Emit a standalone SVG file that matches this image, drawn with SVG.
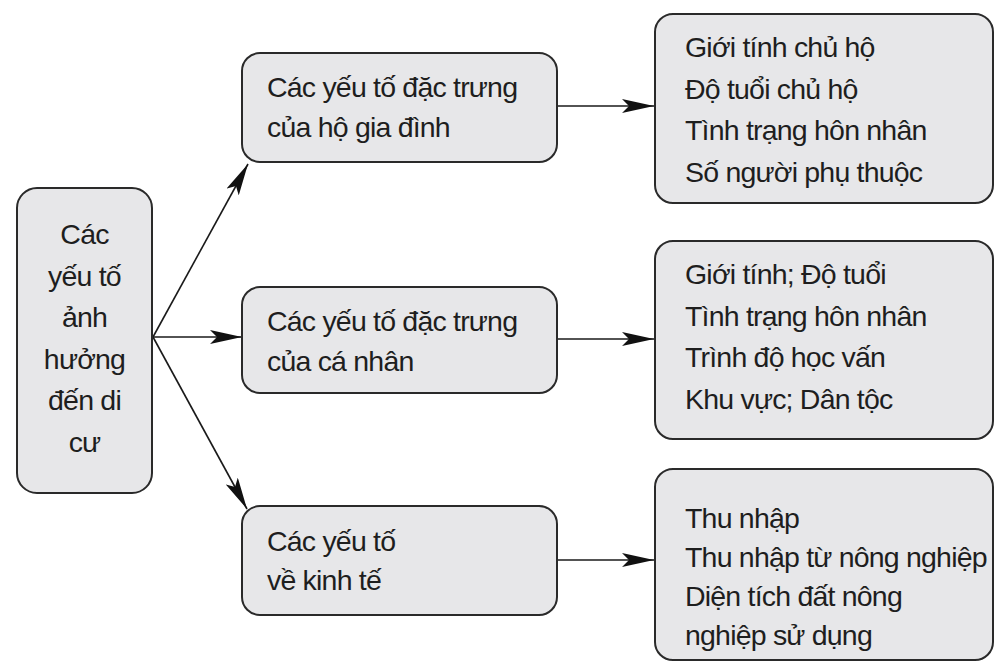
<svg xmlns="http://www.w3.org/2000/svg" width="994" height="665" viewBox="0 0 994 665">
<style>
.box{fill:#e7e7e9;stroke:#2a2a2a;stroke-width:2}
.t{font-family:"Liberation Sans",Arial,sans-serif;font-size:28.5px;letter-spacing:-0.8px;fill:#1e1e1e}
.c{text-anchor:middle}
.ln{stroke:#1a1a1a;stroke-width:1.6;fill:none}
</style>
<defs>
<marker id="ah" markerUnits="userSpaceOnUse" viewBox="0 0 32 14" refX="32" refY="7" markerWidth="32" markerHeight="14" orient="auto">
<path d="M0,0 L32,7 L0,14 L7,7 Z" fill="#111"/>
</marker>
</defs>
<rect width="994" height="665" fill="#ffffff"/>
<g id="connectors">
<line class="ln" x1="153" y1="337" x2="248" y2="164" marker-end="url(#ah)"/>
<line class="ln" x1="153" y1="337" x2="242" y2="337" marker-end="url(#ah)"/>
<line class="ln" x1="153" y1="337" x2="247" y2="509" marker-end="url(#ah)"/>
<line class="ln" x1="558" y1="106" x2="654" y2="106" marker-end="url(#ah)"/>
<line class="ln" x1="558" y1="339" x2="654" y2="339" marker-end="url(#ah)"/>
<line class="ln" x1="558" y1="560" x2="654" y2="560" marker-end="url(#ah)"/>
</g>
<g id="root">
<rect class="box" x="17" y="188" width="135" height="305" rx="20"/>
<text class="t c" x="84.5" y="244">Các</text>
<text class="t c" x="84.5" y="285.5">yếu tố</text>
<text class="t c" x="84.5" y="327">ảnh</text>
<text class="t c" x="84.5" y="368.5">hưởng</text>
<text class="t c" x="84.5" y="410">đến di</text>
<text class="t c" x="84.5" y="451.5">cư</text>
</g>
<g id="household">
<rect class="box" x="242" y="53" width="315" height="109" rx="18"/>
<text class="t" x="267" y="97">Các yếu tố đặc trưng</text>
<text class="t" x="267" y="137">của hộ gia đình</text>
</g>
<g id="individual">
<rect class="box" x="242" y="287" width="315" height="106" rx="18"/>
<text class="t" x="267" y="331">Các yếu tố đặc trưng</text>
<text class="t" x="267" y="371">của cá nhân</text>
</g>
<g id="economic">
<rect class="box" x="242" y="506" width="315" height="109" rx="18"/>
<text class="t" x="267" y="551">Các yếu tố</text>
<text class="t" x="267" y="590">về kinh tế</text>
</g>
<g id="household-list">
<rect class="box" x="655" y="14" width="338" height="189" rx="18"/>
<text class="t" x="685" y="57">Giới tính chủ hộ</text>
<text class="t" x="685" y="98.5">Độ tuổi chủ hộ</text>
<text class="t" x="685" y="140">Tình trạng hôn nhân</text>
<text class="t" x="685" y="182">Số người phụ thuộc</text>
</g>
<g id="individual-list">
<rect class="box" x="655" y="241" width="338" height="198" rx="18"/>
<text class="t" x="685" y="284">Giới tính; Độ tuổi</text>
<text class="t" x="685" y="325.5">Tình trạng hôn nhân</text>
<text class="t" x="685" y="367">Trình độ học vấn</text>
<text class="t" x="685" y="408.5">Khu vực; Dân tộc</text>
</g>
<g id="economic-list">
<rect class="box" x="655" y="469" width="338" height="191" rx="18"/>
<text class="t" x="685" y="528">Thu nhập</text>
<text class="t" x="685" y="567">Thu nhập từ nông nghiệp</text>
<text class="t" x="685" y="606">Diện tích đất nông</text>
<text class="t" x="685" y="645">nghiệp sử dụng</text>
</g>
</svg>
